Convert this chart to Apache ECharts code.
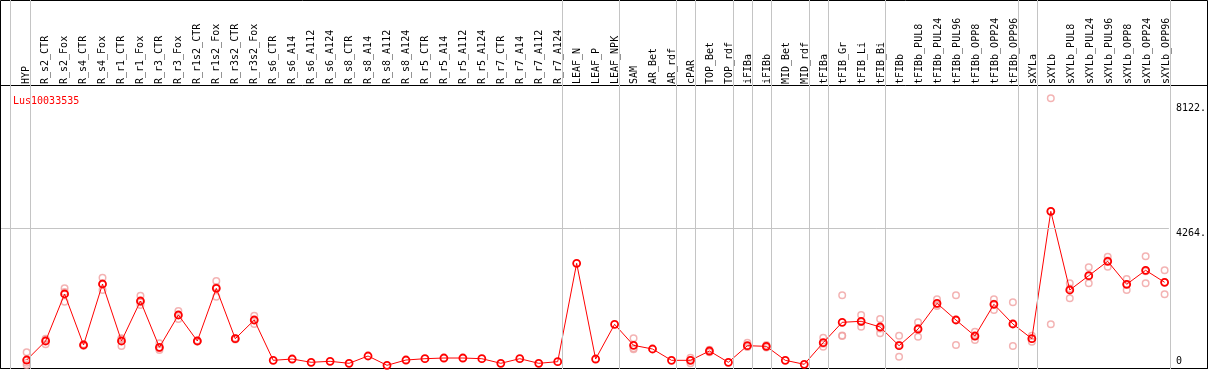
<!DOCTYPE html>
<html>
<head>
<meta charset="utf-8">
<script src="https://cdn.jsdelivr.net/npm/echarts@6.0.0/dist/echarts.min.js"></script>
<style>
  html, body { margin: 0; padding: 0; background: #fff; }
  #chart { width: 1209px; height: 370px; }
</style>
</head>
<body>
<div id="chart"></div>
<script>
const geneName = 'Lus10033535';

const categories = [
  'HYP', 'R_s2_CTR', 'R_s2_Fox', 'R_s4_CTR', 'R_s4_Fox', 'R_r1_CTR', 'R_r1_Fox',
  'R_r3_CTR', 'R_r3_Fox', 'R_r1s2_CTR', 'R_r1s2_Fox', 'R_r3s2_CTR', 'R_r3s2_Fox',
  'R_s6_CTR', 'R_s6_A14', 'R_s6_A112', 'R_s6_A124', 'R_s8_CTR', 'R_s8_A14',
  'R_s8_A112', 'R_s8_A124', 'R_r5_CTR', 'R_r5_A14', 'R_r5_A112', 'R_r5_A124',
  'R_r7_CTR', 'R_r7_A14', 'R_r7_A112', 'R_r7_A124', 'LEAF_N', 'LEAF_P', 'LEAF_NPK',
  'SAM', 'AR_Bet', 'AR_rdf', 'cPAR', 'TOP_Bet', 'TOP_rdf', 'iFIBa', 'iFIBb',
  'MID_Bet', 'MID_rdf', 'tFIBa', 'tFIB_Gr', 'tFIB_Li', 'tFIB_Bi', 'tFIBb',
  'tFIBb_PUL8', 'tFIBb_PUL24', 'tFIBb_PUL96', 'tFIBb_OPP8', 'tFIBb_OPP24', 'tFIBb_OPP96',
  'sXYLa', 'sXYLb', 'sXYLb_PUL8', 'sXYLb_PUL24', 'sXYLb_PUL96', 'sXYLb_OPP8',
  'sXYLb_OPP24', 'sXYLb_OPP96'
];

// mean expression per sample
const meanValues = [
  200, 787, 2238, 664, 2546, 787, 2022, 593, 1590, 787, 2413, 858, 1435,
  191, 231, 130, 160, 99, 324, 37, 200, 241, 262, 262, 241, 99, 241, 99, 149,
  3185, 231, 1302,
  654, 540, 191, 191, 478, 130, 642, 623, 191, 68,
  735, 1364, 1395, 1219, 642, 1157, 1950, 1435, 941, 1920, 1312,
  858, 4790, 2361, 2802, 3247, 2537, 2969, 2599
];

// replicates (null = none visible)
const rep1 = [
  438, 818, 2413, 690, 2741, 870, 2185, 716, 1713, 800, 2639, 880, 1568,
  null, null, null, null, null, null, null, null, null, null, null, null, null, null, null, null,
  null, null, null,
  870, null, null, 272, 520, null, 735, 660, null, null,
  889, 2198, 1590, 1466, 951, 1364, 2074, 2198, 1074, 2074, 1981,
  951, 8278, 2568, 3062, 3389, 2701, 3401, 2969
];
const rep2 = [
  46, 685, 2000, 640, 2361, 633, 1898, 509, 1466, 770, 2154, 830, 1312,
  null, null, null, null, null, null, null, null, null, null, null, null, null, null, null, null,
  null, null, null,
  531, null, null, 99, 440, null, 600, 590, null, null,
  611, 941, 1228, 1025, 303, 920, 1867, 664, 818, 1744, 633,
  765, 1302, 2105, 2568, 3080, 2361, 2568, 2228
];
const rep3 = [
  117, 858, 2300, 664, 2540, 860, 1980, 560, 1590, 790, 2450, 860, 1430,
  null, null, null, null, null, null, null, null, null, null, null, null, null, null, null, null,
  null, null, null,
  560, null, null, 200, 478, null, 620, 620, null, null,
  705, 955, 1370, 1170, 672, 1190, 1910, 1440, 930, 1940, 1320,
  860, 4790, 2410, 2780, 3270, 2550, 2940, 2600
];

// 1-based sample numbers after which a grey separator is drawn
const groupEnds = [1, 29, 32, 35, 36, 38, 39, 40, 42, 43, 46, 53, 54, 61];
const yTicks = [4264, 8122];
const yZeroTick = [0];

const chart = echarts.init(document.getElementById('chart'));

const step = 19;          // px per sample
const firstX = 26.7;      // px of first sample
const plotLeft = 1, plotRight = 1171;
const xMin = (plotLeft - firstX) / step;
const xMax = (plotRight - firstX) / step;
const sepOffset = 4 / step;

const font = 'DejaVu Sans Mono';
const grey = '#c4c4c4';

const toPairs = arr => arr.map((v, i) => (v == null ? null : [i, v])).filter(d => d);

const repSeries = [rep1, rep2, rep3].map(r => ({
  type: 'scatter',
  xAxisIndex: 1, yAxisIndex: 1,
  data: toPairs(r),
  symbol: 'circle',
  symbolSize: 6.5,
  itemStyle: { color: 'rgba(0,0,0,0)', borderColor: '#f0a0a0', borderWidth: 1.5 },
  z: 3,
  silent: true
}));

chart.setOption({
  animation: false,
  title: {
    text: geneName,
    left: 8, top: 91,
    textStyle: { color: '#ff0000', fontSize: 10, fontFamily: font, fontWeight: 'normal' }
  },
  grid: [
    { left: 0.5, top: 0.5, width: 1207, height: 368, show: true, borderColor: '#000', borderWidth: 1, backgroundColor: 'transparent' },
    { left: 0.5, top: 85.5, width: 1207, height: 283, show: true, borderColor: '#000', borderWidth: 1, backgroundColor: 'transparent' },
    { left: plotLeft, top: 0, width: plotRight - plotLeft, height: 369 },
    { left: plotLeft, top: 85, width: plotRight - plotLeft, height: 284 },
    { left: firstX - step / 2, top: 85, width: step * categories.length, height: 10 }
  ],
  xAxis: [
    { gridIndex: 2, type: 'value', min: xMin, max: xMax, show: false },
    { gridIndex: 3, type: 'value', min: xMin, max: xMax, show: false },
    {
      gridIndex: 4, type: 'category', position: 'top', data: categories, boundaryGap: true,
      axisLine: { show: false }, axisTick: { show: false },
      axisLabel: { interval: 0, rotate: 90, margin: 1, fontSize: 10, fontFamily: font, color: '#000' }
    }
  ],
  yAxis: [
    { gridIndex: 2, type: 'value', min: 0, max: 1, show: false },
    {
      gridIndex: 3, type: 'value', min: -77, max: 8688, position: 'right', offset: 0,
      splitLine: { show: false }, axisLine: { show: false }, axisTick: { show: false },
      axisLabel: {
        customValues: yTicks, formatter: v => v + '.', margin: 7,
        fontSize: 10, fontFamily: font, color: '#000', verticalAlign: 'top'
      }
    },
    {
      gridIndex: 3, type: 'value', min: -77, max: 8688, position: 'right', offset: 0,
      splitLine: { show: false }, axisLine: { show: false }, axisTick: { show: false },
      axisLabel: {
        customValues: yZeroTick, formatter: v => String(v), margin: 7,
        fontSize: 10, fontFamily: font, color: '#000', verticalAlign: 'bottom'
      }
    },
    { gridIndex: 4, type: 'value', show: false }
  ],
  series: [
    {
      type: 'line',
      xAxisIndex: 0, yAxisIndex: 0,
      data: [[0, 0.5]],
      showSymbol: false,
      lineStyle: { opacity: 0 },
      silent: true,
      markLine: {
        silent: true,
        symbol: ['none', 'none'],
        label: { show: false },
        lineStyle: { color: grey, type: 'solid', width: 1 },
        data: [{ xAxis: (10.7 - firstX) / step }].concat(
          groupEnds.map(n => ({ xAxis: n - 1 + sepOffset })))
      }
    },
    ...repSeries,
    {
      type: 'line',
      xAxisIndex: 1, yAxisIndex: 1,
      data: meanValues.map((v, i) => [i, v]),
      symbol: 'circle',
      symbolSize: 7,
      lineStyle: { color: '#ff0000', width: 1 },
      itemStyle: { color: 'rgba(0,0,0,0)', borderColor: '#ff0000', borderWidth: 1.8 },
      z: 4,
      markLine: {
        silent: true,
        symbol: ['none', 'none'],
        label: { show: false },
        lineStyle: { color: grey, type: 'solid', width: 1 },
        data: [{ yAxis: 4264 }]
      }
    }
  ]
});
</script>
</body>
</html>
